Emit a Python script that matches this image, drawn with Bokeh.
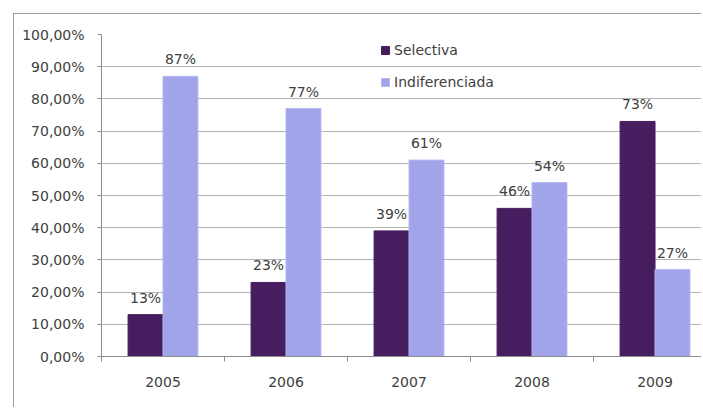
from bokeh.plotting import figure
from bokeh.models import FixedTicker, Range1d, ColumnDataSource, Legend, LegendItem
from bokeh.core.properties import value
from bokeh.embed import file_html
from bokeh.resources import INLINE

years = ["2005", "2006", "2007", "2008", "2009"]
selectiva = [13, 23, 39, 46, 73]
indiferenciada = [87, 77, 61, 54, 27]
y_ticks = [0, 10, 20, 30, 40, 50, 60, 70, 80, 90, 100]
y_tick_labels = ["0,00%", "10,00%", "20,00%", "30,00%", "40,00%", "50,00%",
                 "60,00%", "70,00%", "80,00%", "90,00%", "100,00%"]

FONT = "DejaVu Sans"
TXT = "#404040"
C_SEL = "#461e5f"
C_IND = "#a1a4e9"
BW = 0.284

centers = [i + 0.5 for i in range(len(years))]
x_sel = [c - BW / 2 for c in centers]
x_ind = [c + BW / 2 for c in centers]

src_sel = ColumnDataSource(dict(x=x_sel, top=selectiva, lab=[f"{v}%" for v in selectiva]))
src_ind = ColumnDataSource(dict(x=x_ind, top=indiferenciada, lab=[f"{v}%" for v in indiferenciada]))

p = figure(width=688, height=394, output_backend="svg", toolbar_location=None,
           x_range=Range1d(0, 4.886), y_range=Range1d(0, 100),
           min_border_left=87, min_border_right=0, min_border_top=20, min_border_bottom=52)
p.margin = (13, 0, 0, 13)
p.styles = {"border-left": "1.5px solid #9a9a9a", "border-top": "1.5px solid #9a9a9a"}
p.outline_line_color = None
p.background_fill_color = "white"
p.border_fill_color = "white"

r1 = p.vbar(x="x", top="top", width=BW, source=src_sel, fill_color=C_SEL, line_color=C_SEL)
r2 = p.vbar(x="x", top="top", width=BW, source=src_ind, fill_color=C_IND, line_color="#b4b7f0")

for src in (src_sel, src_ind):
    p.text(x="x", y="top", text="lab", source=src, text_align="center", text_baseline="bottom",
           y_offset=-9, text_font=value(FONT), text_font_size="14px", text_color=TXT)

# y axis
p.yaxis.ticker = FixedTicker(ticks=y_ticks)
p.yaxis.major_label_overrides = {t: l for t, l in zip(y_ticks, y_tick_labels)}
p.yaxis.major_label_text_font = FONT
p.yaxis.major_label_text_font_size = "14px"
p.yaxis.major_label_text_color = TXT
p.yaxis.major_tick_out = 4
p.yaxis.major_tick_in = 0
p.yaxis.minor_tick_line_color = None
p.yaxis.axis_line_color = "#8c8c8c"
p.yaxis.major_tick_line_color = "#8c8c8c"
p.yaxis.major_label_standoff = 13

# x axis
p.xaxis.ticker = FixedTicker(ticks=centers, minor_ticks=list(range(len(years) + 1)))
p.xaxis.major_label_overrides = {c: y for c, y in zip(centers, years)}
p.xaxis.major_label_text_font = FONT
p.xaxis.major_label_text_font_size = "14px"
p.xaxis.major_label_text_color = TXT
p.xaxis.major_tick_line_color = None
p.xaxis.major_tick_out = 0
p.xaxis.major_tick_in = 0
p.xaxis.minor_tick_out = 5
p.xaxis.minor_tick_in = 0
p.xaxis.minor_tick_line_color = "#8c8c8c"
p.xaxis.axis_line_color = "#8c8c8c"
p.xaxis.major_label_standoff = 15

p.xgrid.grid_line_color = None
p.ygrid.grid_line_color = "#b3b3b3"
p.ygrid.grid_line_width = 1

legend = Legend(items=[LegendItem(label="Selectiva", renderers=[r1]),
                       LegendItem(label="Indiferenciada", renderers=[r2])],
                location=(279, 264), orientation="vertical")
legend.padding = 0
legend.margin = 0
legend.spacing = 12
legend.glyph_width = 10
legend.glyph_height = 10
legend.label_height = 20
legend.label_standoff = 4
legend.label_text_font = FONT
legend.label_text_font_size = "14px"
legend.label_text_color = TXT
legend.border_line_color = None
legend.background_fill_alpha = 0
p.add_layout(legend)

open("out.html", "w").write(file_html(p, INLINE))
